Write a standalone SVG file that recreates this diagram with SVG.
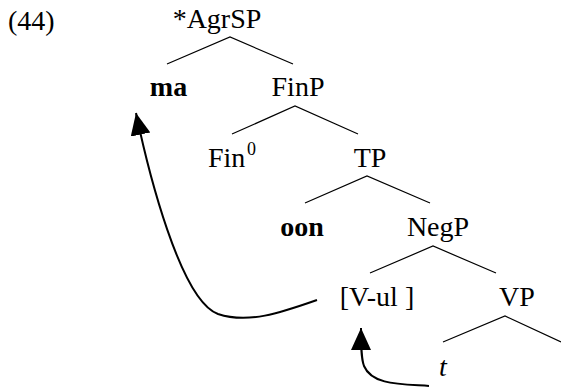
<svg xmlns="http://www.w3.org/2000/svg" width="561" height="390" viewBox="0 0 561 390">
<style>
text{font-family:"Liberation Serif","Times New Roman",serif;font-size:28px;fill:#000}
.b{font-weight:bold}
.i{font-style:italic}
.sup{font-size:18px}
.br{stroke:#000;stroke-width:1.2;fill:none}
.mv{stroke:#000;stroke-width:2;fill:none}
</style>
<defs>
<marker id="ah" markerUnits="userSpaceOnUse" markerWidth="24" markerHeight="22" refX="22" refY="10" orient="auto" viewBox="0 0 24 22">
<path d="M0,0 L22,10 L0,20 z" fill="#000"/>
</marker>
</defs>
<text x="8" y="30">(44)</text>
<g id="agrsp"><text x="217" y="28" text-anchor="middle">*AgrSP</text></g>
<g id="ma"><text class="b" x="168.5" y="96" text-anchor="middle">ma</text></g>
<g id="finp"><text x="298" y="96" text-anchor="middle">FinP</text></g>
<g id="fin0"><text x="208" y="167">Fin</text><text class="sup" x="247" y="155">0</text></g>
<g id="tp"><text x="370" y="167" text-anchor="middle">TP</text></g>
<g id="oon"><text class="b" x="302" y="236" text-anchor="middle">oon</text></g>
<g id="negp"><text x="438" y="236" text-anchor="middle">NegP</text></g>
<g id="vul"><text x="377" y="306" text-anchor="middle">[V-ul ]</text></g>
<g id="vp"><text x="517" y="306" text-anchor="middle">VP</text></g>
<g id="t"><text class="i" x="443" y="376" text-anchor="middle">t</text></g>
<g id="connectors">
<path class="br" d="M167,64 L230,37 L293,64"/>
<path class="br" d="M232,134 L295,106 L358,134"/>
<path class="br" d="M305,203 L367,176 L430,203"/>
<path class="br" d="M370,273 L433,246 L496,273"/>
<path class="br" d="M443,342 L505,316 L561,342"/>
<path class="mv" marker-end="url(#ah)" d="M317,300 C280,313 248,324 218,314 C180,300 148,170 136,113"/>
<path class="mv" marker-end="url(#ah)" d="M429,386 C400,384 372,385 364,366 C361,358 361,345 361,328"/>
</g>
</svg>
